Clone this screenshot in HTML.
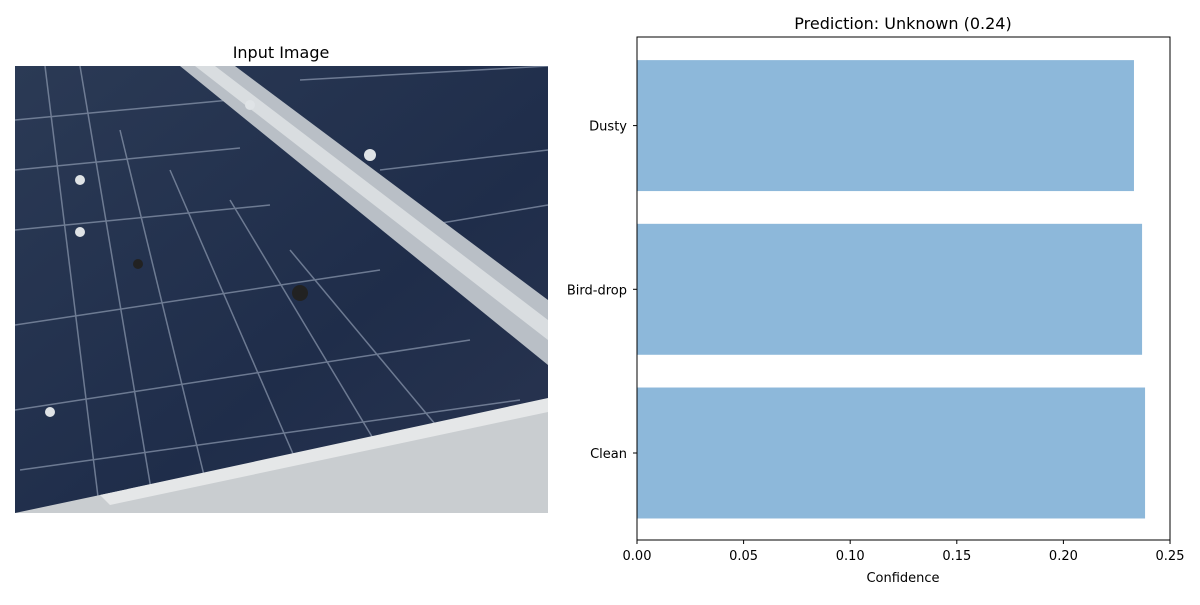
<!DOCTYPE html>
<html><head><meta charset="utf-8"><style>
body{margin:0;background:#fff;font-family:"Liberation Sans","DejaVu Sans",sans-serif;}
svg text{font-family:"DejaVu Sans","Liberation Sans",sans-serif;}
</style></head><body>
<svg width="1200" height="600" xmlns="http://www.w3.org/2000/svg">
<rect width="1200" height="600" fill="#fff"/>
<text x="281" y="58" font-size="16" text-anchor="middle">Input Image</text>
<g>
<defs><clipPath id="ic"><rect x="15" y="66" width="533" height="447"/></clipPath>
<linearGradient id="pg" x1="0" y1="0" x2="1" y2="1"><stop offset="0" stop-color="#2b3a55"/><stop offset="0.6" stop-color="#1f2d4a"/><stop offset="1" stop-color="#2a3550"/></linearGradient></defs>
<g clip-path="url(#ic)">
<rect x="15" y="66" width="533" height="447" fill="url(#pg)"/>
<g stroke="#8d9ab0" stroke-width="1.5" opacity="0.7" fill="none">
<path d="M15 120 L230 100"/><path d="M15 170 L240 148"/><path d="M15 230 L270 205"/><path d="M15 325 L380 270"/><path d="M15 410 L470 340"/><path d="M20 470 L520 400"/>
<path d="M45 66 L100 513"/><path d="M80 66 L155 513"/><path d="M120 130 L210 500"/><path d="M170 170 L300 470"/><path d="M230 200 L380 450"/><path d="M290 250 L440 430"/>
<path d="M380 170 L548 150"/><path d="M400 230 L548 205"/><path d="M300 80 L548 66"/>
</g>
<polygon points="180,66 235,66 548,300 548,365" fill="#b9bfc6"/>
<polygon points="195,66 215,66 548,320 548,340" fill="#d9dde0"/>
<polygon points="15,513 100,495 548,400 548,513" fill="#c9cdd0"/>
<polygon points="100,495 548,398 548,412 110,505" fill="#e5e7e8"/>
<g fill="#dfe3e6"><circle cx="370" cy="155" r="6"/><circle cx="80" cy="180" r="5"/><circle cx="80" cy="232" r="5"/><circle cx="250" cy="105" r="5"/><circle cx="50" cy="412" r="5"/></g>
<g fill="#222"><circle cx="300" cy="293" r="8"/><circle cx="138" cy="264" r="5"/></g>
</g></g>

<text x="903" y="29" font-size="16" text-anchor="middle">Prediction: Unknown (0.24)</text>
<g id="bars"></g>
<rect x="637" y="37" width="533" height="503" fill="none" stroke="#000" stroke-width="1"/>
<g id="axes" font-size="13"></g>
<text x="903" y="582" font-size="13" text-anchor="middle">Confidence</text>
</svg>
<script>
const categories=["Clean","Bird-drop","Dusty"];
const values=[0.2383,0.2369,0.2331];
const xTicks=[0,0.05,0.1,0.15,0.2,0.25];
const xTickLabels=["0.00","0.05","0.10","0.15","0.20","0.25"];
const NS="http://www.w3.org/2000/svg";
const x0=637,x1=1170,xmax=0.25;
const xs=v=>x0+v/xmax*(x1-x0);
const step=163.7, yBase=453;
const ys=i=>yBase-i*step;
const bars=document.getElementById('bars'),axes=document.getElementById('axes');
values.forEach((v,i)=>{
 const r=document.createElementNS(NS,'rect');
 r.setAttribute('x',xs(0));r.setAttribute('y',ys(i)-step*0.4);
 r.setAttribute('width',xs(v)-xs(0));r.setAttribute('height',step*0.8);
 r.setAttribute('fill','#8db8da');
 
 
 bars.appendChild(r);
 const t=document.createElementNS(NS,'line');
 t.setAttribute('x1',x0-4);t.setAttribute('x2',x0);t.setAttribute('y1',ys(i));t.setAttribute('y2',ys(i));t.setAttribute('stroke','#000');
 
 
 axes.appendChild(t);
 const l=document.createElementNS(NS,'text');
 l.setAttribute('x',x0-10);l.setAttribute('y',ys(i)+5);l.setAttribute('text-anchor','end');l.textContent=categories[i];
 
 
 axes.appendChild(l);
});
xTicks.forEach((v,i)=>{
 const t=document.createElementNS(NS,'line');
 t.setAttribute('x1',xs(v));t.setAttribute('x2',xs(v));t.setAttribute('y1',540);t.setAttribute('y2',544);t.setAttribute('stroke','#000');
 
 
 axes.appendChild(t);
 const l=document.createElementNS(NS,'text');
 l.setAttribute('x',xs(v));l.setAttribute('y',560);l.setAttribute('text-anchor','middle');l.textContent=xTickLabels[i];
 
 
 axes.appendChild(l);
});
</script>
</body></html>
